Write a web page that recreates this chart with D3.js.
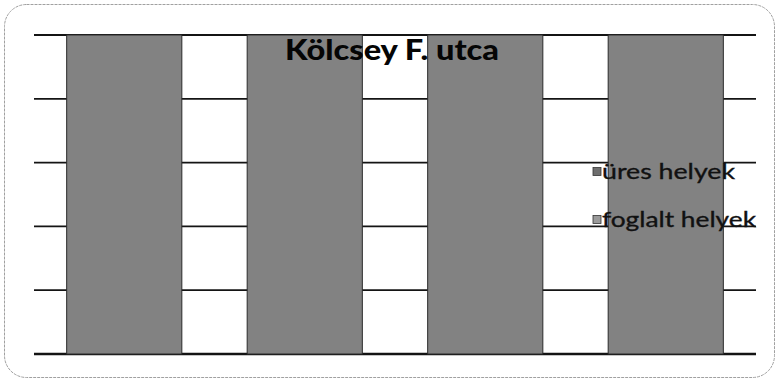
<!DOCTYPE html>
<html><head><meta charset="utf-8">
<script src="https://cdn.jsdelivr.net/npm/d3@7"></script>
<style>body{margin:0;background:#fff}svg{display:block}</style>
</head><body>
<svg id="c" width="778" height="381"></svg>
<script>
const title = "Kölcsey F. utca";
const categories = ["1", "2", "3", "4"];
const seriesNames = ["foglalt helyek", "üres helyek"];
const foglalt = [100, 100, 100, 100];
const ures = [0, 0, 0, 0];
const yTicks = [0, 20, 40, 60, 80, 100];
const legendLabels = ["üres helyek", "foglalt helyek"];

const svg = d3.select("#c");
const W = 778, H = 381;
const m = {left: 34, right: 22, top: 35, bottom: 27};

svg.append("rect").attr("x", 4.5).attr("y", 4.5).attr("width", W - 8).attr("height", H - 8)
  .attr("rx", 22).attr("fill", "#fff").attr("stroke", "#a0a0a0").attr("stroke-width", 1)
  .attr("stroke-dasharray", "3,1");

const x = d3.scaleBand().domain(categories).range([m.left, W - m.right]).paddingInner(0.362).paddingOuter(0.181);
const y = d3.scaleLinear().domain([0, 100]).range([H - m.bottom, m.top]);

const colors = {"foglalt helyek": "#828282", "üres helyek": "#7a7a7a"};

// gridlines
svg.append("g").selectAll("line").data(yTicks).join("line")
  .attr("x1", m.left).attr("x2", W - m.right)
  .attr("y1", d => y(d)).attr("y2", d => y(d))
  .attr("stroke", "#141414").attr("stroke-width", d => d === 0 ? 2.5 : 1.8);

const rows = categories.map((c, i) => ({cat: c, "foglalt helyek": foglalt[i], "üres helyek": ures[i]}));
const stack = d3.stack().keys(seriesNames)(rows);

svg.append("g").selectAll("g").data(stack).join("g")
  .attr("fill", d => colors[d.key])
  .selectAll("rect").data(d => d).join("rect")
  .attr("x", d => x(d.data.cat))
  .attr("width", x.bandwidth())
  .attr("y", d => y(d[1]))
  .attr("height", d => y(d[0]) - y(d[1]))
  .attr("stroke", d => (d[1] - d[0]) > 0 ? "#2a2a2a" : "none").attr("stroke-width", 1);

// title
svg.append("text").attr("x", 392).attr("y", 60).attr("text-anchor", "middle")
  .attr("font-family", "Lato, 'Open Sans', sans-serif").attr("font-weight", "900")
  .attr("font-size", 28).attr("fill", "#050505")
  .attr("textLength", 214).attr("lengthAdjust", "spacingAndGlyphs")
  .text(title);

// legend
const lg = svg.append("g");
const legendColors = {"üres helyek": "#6e6e6e", "foglalt helyek": "#9a9a9a"};
const legendY = [172, 220];
const legendW = [133, 154];
legendLabels.forEach((lab, i) => {
  lg.append("rect").attr("x", 593).attr("y", legendY[i] - 4.5).attr("width", 8).attr("height", 8)
    .attr("fill", legendColors[lab]).attr("stroke", "#333").attr("stroke-width", 0.8);
  lg.append("text").attr("x", 602).attr("y", legendY[i] + 7)
    .attr("font-family", "Lato, 'Open Sans', sans-serif").attr("font-size", 21).attr("fill", "#111")
    .attr("stroke", "#111").attr("stroke-width", 0.35)
    .attr("textLength", legendW[i]).attr("lengthAdjust", "spacingAndGlyphs")
    .text(lab);
});
</script>
</body></html>
